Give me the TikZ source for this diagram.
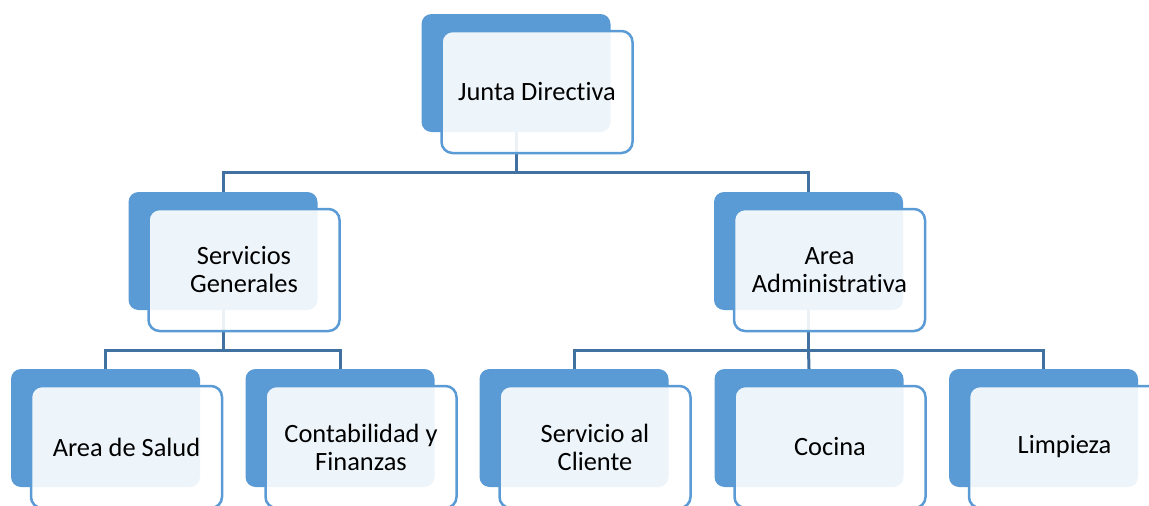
\documentclass[tikz,border=0pt]{standalone}
\usepackage{fontspec}
\setmainfont{Carlito}[Ligatures={NoCommon}]
\usetikzlibrary{positioning}
\definecolor{boxblue}{RGB}{91,155,213}
\definecolor{linkblue}{RGB}{65,113,160}
\tikzset{
	backbox/.style={rectangle,rounded corners=10pt,fill=boxblue,
		minimum width=189pt,minimum height=118pt},
	frontbox/.style={rectangle,rounded corners=11pt,draw=boxblue,line width=2.5pt,
		fill=white,fill opacity=0.9,text opacity=1,
		minimum width=191pt,minimum height=122pt,align=center,
		font=\fontsize{26.4}{28}\selectfont},
	link/.style={draw=linkblue,line width=3pt}
}

\begin{document}
\begin{tikzpicture}[x=1pt,y=-1pt]
\useasboundingbox (0,0) rectangle (1149,506);
\clip (0,0) rectangle (1149,506);
% back boxes
\node[backbox] (jd-b) at (516,73) {};
\node[backbox] (sg-b) at (223,251) {};
\node[backbox] (aa-b) at (808.5,251) {};
\node[backbox] (as-b) at (105.5,428) {};
\node[backbox] (cf-b) at (340,428) {};
\node[backbox] (sc-b) at (574,428) {};
\node[backbox] (co-b) at (809,428) {};
\node[backbox] (li-b) at (1043.5,428) {};
% links
\coordinate (bus0) at (516,172);
\coordinate (bus1) at (223,350);
\coordinate (bus2) at (808.5,350);
\draw[link] (jd-b.south) -- (bus0);
\draw[link] (sg-b.north) |- (bus0) -| (aa-b.north);
\draw[link] (sg-b.south) -- (bus1);
\draw[link] (as-b.north) |- (bus1) -| (cf-b.north);
\draw[link] (aa-b.south) -- (bus2);
\draw[link] (sc-b.north) |- (bus2) -| (li-b.north);
\draw[link] (bus2) -- (co-b.north);
% front boxes
\node[frontbox] (jd) at ([shift={(21,19)}]jd-b) {Junta Directiva};
\node[frontbox] (sg) at ([shift={(21,19)}]sg-b) {Servicios\\Generales};
\node[frontbox] (aa) at ([shift={(21,19)}]aa-b) {Area\\Administrativa};
\node[frontbox] (as) at ([shift={(21,19)}]as-b) {Area de Salud};
\node[frontbox] (cf) at ([shift={(21,19)}]cf-b) {Contabilidad y\\Finanzas};
\node[frontbox] (sc) at ([shift={(21,19)}]sc-b) {Servicio al\\Cliente};
\node[frontbox] (co) at ([shift={(21,19)}]co-b) {Cocina};
\node[frontbox] (li) at ([shift={(21,19)}]li-b) {Limpieza};
\end{tikzpicture}
\end{document}
